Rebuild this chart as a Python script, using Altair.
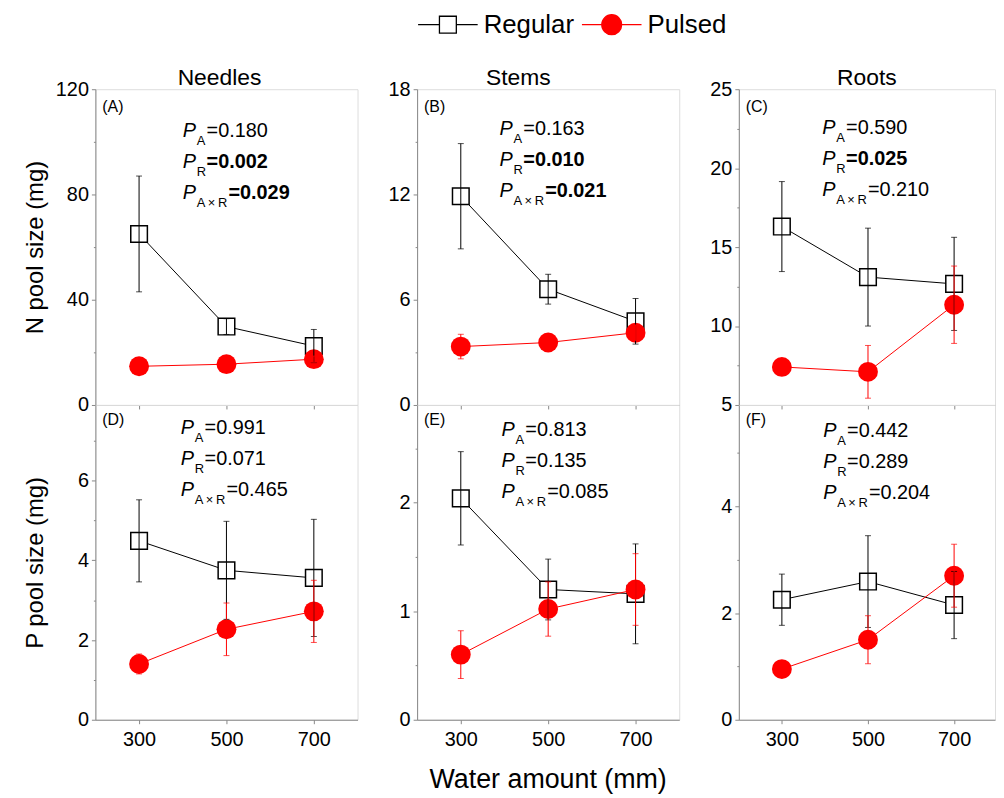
import altair as alt
import pandas as pd

FONT = "Liberation Sans"

water = [300, 500, 700]
treatments = ["Regular", "Pulsed"]
column_titles = ["Needles", "Stems", "Roots"]
panel_tags = ["(A)", "(B)", "(C)", "(D)", "(E)", "(F)"]
row_titles = ["N pool size (mg)", "P pool size (mg)"]
x_title = "Water amount (mm)"

# N pool size (mg)
n_needles_regular = [65.0, 29.8, 22.4]
n_needles_regular_err = [22.0, 3.0, 6.3]
n_needles_pulsed = [14.7, 15.5, 17.4]
n_needles_pulsed_err = [1.0, 1.0, 1.2]
n_stems_regular = [11.9, 6.6, 4.77]
n_stems_regular_err = [3.0, 0.85, 1.3]
n_stems_pulsed = [3.33, 3.56, 4.12]
n_stems_pulsed_err = [0.7, 0.2, 0.45]
n_roots_regular = [16.3, 13.1, 12.67]
n_roots_regular_err = [2.85, 3.1, 2.95]
n_roots_pulsed = [7.41, 7.1, 11.35]
n_roots_pulsed_err = [0.3, 1.67, 2.45]

# P pool size (mg)
p_needles_regular = [4.49, 3.75, 3.56]
p_needles_regular_err = [1.03, 1.23, 1.47]
p_needles_pulsed = [1.40, 2.27, 2.72]
p_needles_pulsed_err = [0.25, 0.66, 0.78]
p_stems_regular = [2.04, 1.20, 1.16]
p_stems_regular_err = [0.43, 0.28, 0.46]
p_stems_pulsed = [0.60, 1.02, 1.20]
p_stems_pulsed_err = [0.22, 0.25, 0.33]
p_roots_regular = [2.25, 2.59, 2.15]
p_roots_regular_err = [0.48, 0.86, 0.63]
p_roots_pulsed = [0.95, 1.50, 2.70]
p_roots_pulsed_err = [0.10, 0.45, 0.59]

# ANOVA p-values per panel (A..F)
p_amount = ["0.180", "0.163", "0.590", "0.991", "0.813", "0.442"]
p_regime = ["0.002", "0.010", "0.025", "0.071", "0.135", "0.289"]
p_inter = ["0.029", "0.021", "0.210", "0.465", "0.085", "0.204"]
sig_regime = [True, True, True, False, False, False]
sig_inter = [True, True, False, False, False, False]

# y axes
y_domains = [[0, 120], [0, 18], [5, 25], [0, 7.9], [0, 2.9], [0, 5.9]]
y_major = [40, 6, 5, 2, 1, 2]
y_ticks = [
    [0, 20, 40, 60, 80, 100, 120],
    [0, 3, 6, 9, 12, 15, 18],
    [5, 7.5, 10, 12.5, 15, 17.5, 20, 22.5, 25],
    [0, 1, 2, 3, 4, 5, 6, 7],
    [0, 0.5, 1, 1.5, 2, 2.5],
    [0, 1, 2, 3, 4, 5],
]

# layout
PANEL_W = [264, 264, 258]
X_DOMAINS = [[200, 800], [200, 800], [200, 795]]
ROW_H = [318, 317]
ANNOT = [(88, 48), (83, 46), (84, 45), (86, 29), (85, 31), (85, 32)]
LINE_GAP = 31.5
TITLE_X = [125, 102, 129]

one = pd.DataFrame({"k": [0]})


def text_layer(txt, x, y, size=20, style="normal", weight="normal", align="left",
               baseline="alphabetic", color="black"):
    return alt.Chart(one).mark_text(
        text=txt, font=FONT, fontSize=size, fontStyle=style, fontWeight=weight,
        align=align, baseline=baseline, color=color,
    ).encode(x=alt.value(x), y=alt.value(y))


def make_panel(i, reg, reg_e, pul, pul_e):
    row, col = divmod(i, 3)
    vals = reg + pul
    errs = reg_e + pul_e
    df = pd.DataFrame({
        "water": water * 2,
        "treat": ["Regular"] * 3 + ["Pulsed"] * 3,
        "value": vals,
        "lo": [v - e for v, e in zip(vals, errs)],
        "hi": [v + e for v, e in zip(vals, errs)],
    })
    step = y_major[i]
    is_major = f"abs(datum.value/{step} - round(datum.value/{step})) < 1e-6"
    yaxis = alt.Axis(
        values=y_ticks[i],
        labelExpr=f"{is_major} ? format(datum.value, '~g') : ''",
        tickSize={"condition": {"test": is_major, "value": 4}, "value": 2},
        labelPadding=3, labelFontSize=20, grid=False,
        title=row_titles[row] if col == 0 else None,
        titleFontSize=24, titleFontWeight="normal", titleAngle=270,
        titleX=-60, titleY=ROW_H[row] / 2, titleBaseline="middle", titleAlign="center",
    )
    if row == 0:
        xaxis = alt.Axis(values=water, labels=False, tickSize=4, grid=False, title=None)
    else:
        if col == 1:
            xaxis = alt.Axis(values=water, tickSize=4, labelPadding=6, labelFontSize=20,
                             grid=False, title=x_title, titleFontSize=27,
                             titleFontWeight="normal", titleX=131.5, titleY=68,
                             titleBaseline="alphabetic", titleAlign="center")
        else:
            xaxis = alt.Axis(values=water, tickSize=4, labelPadding=6, labelFontSize=20,
                             grid=False, title=None)
    xs = alt.Scale(domain=X_DOMAINS[col], nice=False, zero=False)
    ys = alt.Scale(domain=y_domains[i], nice=False, zero=False)
    X = alt.X("water:Q", scale=xs, axis=xaxis)
    Y = alt.Y("value:Q", scale=ys, axis=yaxis)
    Ylo = alt.Y("lo:Q", scale=ys, axis=yaxis)
    Yhi = alt.Y("hi:Q", scale=ys, axis=yaxis)

    base = alt.Chart(df)
    reg_b = base.transform_filter(alt.datum.treat == "Regular")
    pul_b = base.transform_filter(alt.datum.treat == "Pulsed")

    layers = [
        reg_b.mark_line(color="black", strokeWidth=1).encode(x=X, y=Y),
        pul_b.mark_line(color="red", strokeWidth=1).encode(x=X, y=Y),
        reg_b.mark_point(shape="square", size=280, filled=True, fill="white",
                         stroke="black", strokeWidth=1.5, opacity=1).encode(x=X, y=Y),
        pul_b.mark_point(shape="circle", size=400, filled=True, color="red",
                         opacity=1).encode(x=X, y=Y),
    ]
    for b, c in ((reg_b, "black"), (pul_b, "red")):
        layers.append(b.mark_rule(color=c, strokeWidth=1).encode(x=X, y=Ylo, y2="hi:Q"))
        layers.append(b.mark_tick(orient="horizontal", size=6, thickness=1, color=c).encode(x=X, y=Ylo))
        layers.append(b.mark_tick(orient="horizontal", size=6, thickness=1, color=c).encode(x=X, y=Yhi))

    # panel tag
    layers.append(text_layer(panel_tags[i], 7, 23 if row == 0 else 20, size=16))
    # statistics
    x0, y0 = ANNOT[i]
    subs = ["A", "R", "A\u2009\u00d7\u2009R"]
    values = [p_amount[i], p_regime[i], p_inter[i]]
    bold = [False, sig_regime[i], sig_inter[i]]
    eq_dx = [24, 24, 46]
    for k in range(3):
        yy = y0 + k * LINE_GAP
        layers.append(text_layer("P", x0, yy, size=20, style="italic"))
        layers.append(text_layer(subs[k], x0 + 14, yy + 8, size=13))
        layers.append(text_layer("=" + values[k], x0 + eq_dx[k], yy, size=20,
                                 weight="bold" if bold[k] else "normal"))
    if row == 0:
        layers.append(text_layer(column_titles[col], TITLE_X[col], -4, size=23, align="center"))

    if i == 0:
        reg_path = "M-3,0H-0.85M0.85,0H3M-0.85,-0.85H0.85V0.85H-0.85Z"
        pul_path = "M-3,0H3M-1,0A1,1,0,1,1,1,0A1,1,0,1,1,-1,0Z"
        leg = alt.Legend(orient="none", legendX=342, legendY=-78, direction="horizontal",
                         columns=2, title=None, symbolSize=400, symbolStrokeWidth=1.3,
                         symbolOpacity=1, labelFontSize=26, labelFont=FONT, labelColor="black",
                         labelOffset=23, columnPadding=4, padding=0)
        leg_df = pd.DataFrame({"treat": treatments})
        layers.append(alt.Chart(leg_df).mark_point(opacity=0).encode(
            x=alt.value(0), y=alt.value(0),
            shape=alt.Shape("treat:N", scale=alt.Scale(domain=treatments, range=[reg_path, pul_path]), legend=leg),
            fill=alt.Fill("treat:N", scale=alt.Scale(domain=treatments, range=["white", "red"]), legend=leg),
            stroke=alt.Stroke("treat:N", scale=alt.Scale(domain=treatments, range=["black", "red"]), legend=leg),
        ))

    return alt.layer(*layers).properties(width=PANEL_W[col], height=ROW_H[row])


series = [
    (n_needles_regular, n_needles_regular_err, n_needles_pulsed, n_needles_pulsed_err),
    (n_stems_regular, n_stems_regular_err, n_stems_pulsed, n_stems_pulsed_err),
    (n_roots_regular, n_roots_regular_err, n_roots_pulsed, n_roots_pulsed_err),
    (p_needles_regular, p_needles_regular_err, p_needles_pulsed, p_needles_pulsed_err),
    (p_stems_regular, p_stems_regular_err, p_stems_pulsed, p_stems_pulsed_err),
    (p_roots_regular, p_roots_regular_err, p_roots_pulsed, p_roots_pulsed_err),
]
panels = [make_panel(i, *s) for i, s in enumerate(series)]

chart = alt.concat(*panels, columns=3, spacing={"row": 0, "column": 60}, bounds="flush").properties(
    padding={"left": 15, "top": 1, "right": 0, "bottom": 0}
).configure_view(stroke=None).configure_axis(
    domainColor="black", tickColor="black", labelColor="black", titleColor="black",
    labelFont=FONT, titleFont=FONT, domainWidth=1, tickWidth=1,
).configure(background="white")

chart.save("out.html", embed_options={"renderer": "svg", "actions": False})
